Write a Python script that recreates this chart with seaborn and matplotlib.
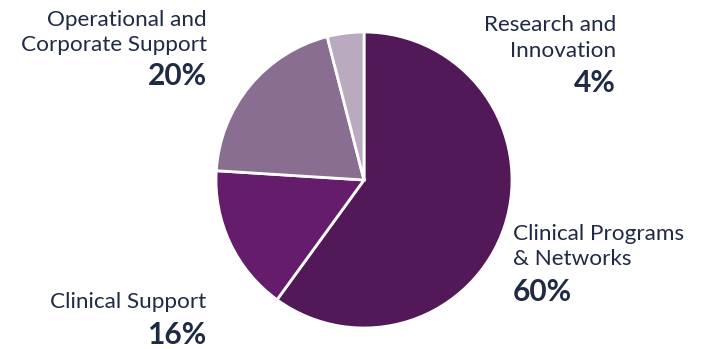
import matplotlib
matplotlib.use("Agg")
import matplotlib.pyplot as plt
import seaborn as sns

categories = ["Clinical Programs\n& Networks", "Clinical Support", "Operational and\nCorporate Support", "Research and\nInnovation"]
values = [60, 16, 20, 4]
pct_labels = ["60%", "16%", "20%", "4%"]
colors = ["#521858", "#651d6b", "#8a6e92", "#b9aabf"]

sns.set_theme(style="white")
plt.rcParams['font.family'] = ['Lato', 'DejaVu Sans']

W, H = 709, 349
fig = plt.figure(figsize=(W / 100, H / 100), dpi=100)
ax = fig.add_axes([0, 0, 1, 1])
ax.set_xlim(0, W)
ax.set_ylim(0, H)
ax.axis("off")

ax.pie(values, colors=colors, startangle=90, counterclock=False,
       center=(364, H - 180), radius=148,
       wedgeprops=dict(edgecolor="white", linewidth=2))
ax.set_xlim(0, W)
ax.set_ylim(0, H)
ax.set_aspect("equal")

txt = "#1f2a44"
place = [
    (513, [240, 265], 301, "left"),
    (206, [308], 344, "right"),
    (207, [26, 51], 85, "right"),
    (616, [31, 57], 92, "right"),
]
for cat, pct, (x, bls, pb, ha) in zip(categories, pct_labels, place):
    for line, bl in zip(cat.split("\n"), bls):
        ax.text(x, H - bl, line, ha=ha, va="baseline", fontsize=16.2, color=txt)
    ax.text(x, H - pb, pct, ha=ha, va="baseline", fontsize=21.5, fontweight="bold", color=txt)

fig.savefig("out.png", dpi=100)
